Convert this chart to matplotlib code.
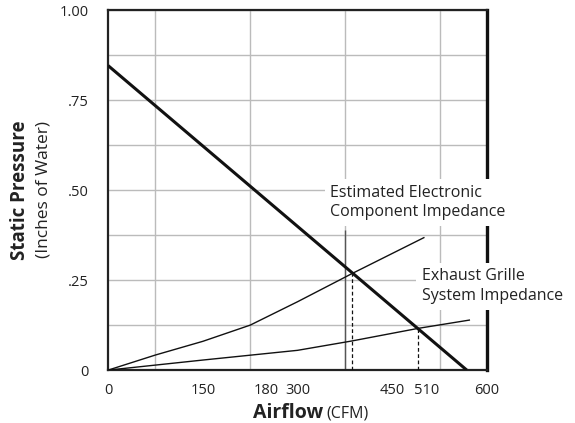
import numpy as np
import matplotlib.pyplot as plt

plt.rcParams['font.family'] = ['Open Sans', 'DejaVu Sans']

# fan performance curve (straight line)
fan_cfm = [0, 568]
fan_sp = [0.846, 0]

# estimated electronic component impedance
elec_cfm = [0, 75, 150, 225, 300, 386, 500]
elec_sp = [0, 0.042, 0.08, 0.125, 0.19, 0.268, 0.368]

# exhaust grille system impedance
grille_cfm = [0, 150, 300, 386, 491, 572]
grille_sp = [0, 0.028, 0.055, 0.081, 0.116, 0.139]

# operating points
op_cfm = [386, 491]
op_sp = [0.268, 0.116]

x_tick_pos = [0, 150, 250, 300, 450, 505, 600]
x_tick_labels = ['0', '150', '180', '300', '450', '510', '600']
y_tick_pos = np.arange(0, 1.001, 0.125)
y_tick_labels = ['0', '', '.25', '', '.50', '', '.75', '', '1.00']

fig = plt.figure(figsize=(5.75, 4.23), dpi=100)
ax = fig.add_axes([0.188, 0.125, 0.659, 0.851])

ax.plot(fan_cfm, fan_sp, color='#111111', lw=2.2, zorder=4, solid_capstyle='butt')
ax.plot(elec_cfm, elec_sp, color='#111111', lw=1.0, zorder=3)
ax.plot(grille_cfm, grille_sp, color='#111111', lw=1.0, zorder=3)
ax.vlines(op_cfm, 0, op_sp, colors='#111111', linestyles=(0, (3, 2)), lw=0.9, zorder=3)
ax.vlines(375, 0, 0.39, colors='#555555', lw=1.0, zorder=2)

ax.set_xlim(0, 600)
ax.set_ylim(0, 1.0)
ax.set_xticks(np.arange(0, 601, 75), minor=True)
ax.set_xticks(x_tick_pos, x_tick_labels)
ax.set_yticks(y_tick_pos, y_tick_labels)
ax.grid(which='minor', axis='x', color='#bbbbbb', lw=1.0, zorder=1)
ax.grid(which='major', axis='y', color='#bbbbbb', lw=1.0, zorder=1)
ax.set_axisbelow(True)
ax.tick_params(axis='both', which='both', length=0, labelsize=10.5, colors='#222222')
ax.tick_params(axis='x', pad=9)
ax.tick_params(axis='y', pad=14)

for side in ['left', 'bottom', 'top']:
    ax.spines[side].set_linewidth(1.6)
    ax.spines[side].set_color('#222222')
ax.spines['right'].set_linewidth(2.4)
ax.spines['right'].set_color('#111111')

box = dict(facecolor='white', edgecolor='none', pad=4)
ax.text(352, 0.466, 'Estimated Electronic\nComponent Impedance', fontsize=11.5,
        color='#222222', ha='left', va='center', linespacing=1.3, bbox=box,
        zorder=6, clip_on=False)
ax.text(497, 0.233, 'Exhaust Grille\nSystem Impedance', fontsize=11.5,
        color='#222222', ha='left', va='center', linespacing=1.3, bbox=box,
        zorder=6, clip_on=False)

# axis titles: bold part + regular part
fig.text(323 / 575, 1 - 413 / 423, 'Airflow', fontsize=14, fontweight='bold',
         ha='right', va='center', color='#222222')
fig.text(326 / 575, 1 - 413 / 423, '(CFM)', fontsize=11.5,
         ha='left', va='center', color='#222222')
fig.text(20 / 575, 1 - 190 / 423, 'Static Pressure', fontsize=13.5, fontweight='bold',
         rotation=90, ha='center', va='center', color='#222222')
fig.text(44 / 575, 1 - 189 / 423, '(Inches of Water)', fontsize=12.5,
         rotation=90, ha='center', va='center', color='#222222')

fig.savefig('out.png', dpi=100)
